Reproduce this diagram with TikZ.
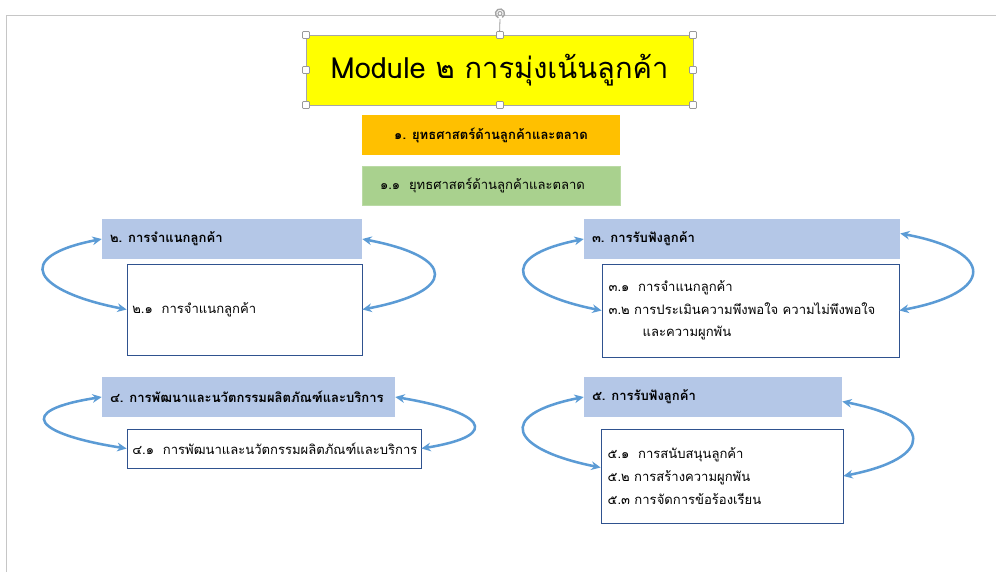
\documentclass[tikz,border=0pt]{standalone}
\usepackage{fontspec}
\setmainfont[Script=Thai]{Loma}
\usetikzlibrary{arrows.meta}
\definecolor{cyellow}{HTML}{FFFF00}
\definecolor{corange}{HTML}{FFC000}
\definecolor{cgreen}{HTML}{A9D18E}
\definecolor{chead}{HTML}{B4C7E7}
\definecolor{cbord}{HTML}{2F528F}
\definecolor{carrow}{HTML}{5B9BD5}
\definecolor{cgrey}{HTML}{C6C6C6}
\newcommand{\lbox}[2]{\makebox[#1][l]{#2}}
\tikzset{
  headbox/.style={fill=chead, draw=none, minimum height=30pt, inner xsep=6pt, inner ysep=0pt, anchor=center, font=\fontsize{9.8}{12}\selectfont\bfseries},
  subbox/.style={fill=white, draw=cbord, line width=0.6pt, inner xsep=4pt, inner ysep=0pt, anchor=center, font=\fontsize{9.8}{17}\selectfont},
  conn/.style={draw=carrow, line width=1.9pt, {Stealth[length=7pt,width=6.5pt]}-{Stealth[length=7pt,width=6.5pt]}},
  handle/.style={draw=gray!80, fill=white, line width=0.5pt, rounded corners=0.6pt},
}
\begin{document}
\begin{tikzpicture}[x=0.75pt,y=-0.75pt]
\useasboundingbox (0,0) rectangle (996,572);
% slide frame
\draw[cgrey, line width=1pt] (6.5,572) -- (6.5,15.5) -- (996,15.5);
% title
\node[fill=cyellow, draw=gray!70, line width=0.6pt, minimum width=290.25pt, minimum height=52.5pt, inner sep=0pt, font=\fontsize{21.8}{24}\selectfont] (title) at (499.5,70) {Module ๒ การมุ่งเน้นลูกค้า};
% rotation handle
\draw[gray!80, line width=0.6pt] (title.north) -- (500,19);
\draw[gray!70, line width=1.1pt] (500,13.5) ++(60:4.5) arc (60:-250:4.5);
\draw[gray!70, line width=0.8pt] (500,13.5) circle (2);
\foreach \p in {(306,35),(500,35),(693,35),(306,70),(693,70),(306,105),(500,105),(693,105)}
  \draw[handle] \p ++(-3.5,-3.5) rectangle ++(7,7);
% strategy boxes
\node[fill=corange, minimum width=193.5pt, minimum height=30pt, inner sep=0pt, font=\fontsize{9.8}{12}\selectfont\bfseries] (s1) at (491,135) {๑. ยุทธศาสตร์ด้านลูกค้าและตลาด};
\node[fill=cgreen, draw=cgreen!80!white, line width=0.5pt, minimum height=29.25pt, inner sep=0pt, font=\fontsize{9.8}{12}\selectfont] (s11) at (491,185.5) {\lbox{193.5pt}{\hspace*{13.5pt}๑.๑\ \ ยุทธศาสตร์ด้านลูกค้าและตลาด}};
% group 2
\node[headbox] (h2) at (232,239) {\lbox{183pt}{๒. การจำแนกลูกค้า}};
\node[subbox, minimum height=68.25pt] (b2) at (244.5,309.5) {\lbox{168.25pt}{๒.๑\ \ การจำแนกลูกค้า}};
% group 3
\node[headbox] (h3) at (742,239) {\lbox{225pt}{๓. การรับฟังลูกค้า}};
\node[subbox, text width=212.75pt, inner xsep=5pt, minimum height=69.75pt, align=left] (b3) at (750.5,310.5) {๓.๑\ \ การจำแนกลูกค้า\\๓.๒ การประเมินความพึงพอใจ ความไม่พึงพอใจ\\\hspace*{25.5pt}และความผูกพัน};
% group 4
\node[headbox] (h4) at (248.5,397) {\lbox{207.75pt}{๔. การพัฒนาและนวัตกรรมผลิตภัณฑ์และบริการ}};
\node[subbox, minimum height=29.25pt] (b4) at (274,448.5) {\lbox{212.5pt}{๔.๑\ \ การพัฒนาและนวัตกรรมผลิตภัณฑ์และบริการ}};
% group 5
\node[headbox] (h5) at (713,397) {\lbox{181.5pt}{๕. การรับฟังลูกค้า}};
\node[subbox, text width=171.5pt, inner xsep=5pt, minimum height=70.5pt, align=left] (b5) at (722,476) {๕.๑\ \ การสนับสนุนลูกค้า\\๕.๒ การสร้างความผูกพัน\\๕.๓ การจัดการข้อร้องเรียน};
% connectors
\draw[conn] (h2.west) .. controls +(-92,18) and +(-92,-18) .. (b2.west);
\draw[conn] (h2.east) .. controls +(95,18) and +(95,-18) .. (b2.east);
\draw[conn] (h3.west) .. controls +(-90,18) and +(-90,-18) .. (b3.west);
\draw[conn] (h3.2) .. controls +(96,18) and +(96,-18) .. (b3.east);
\draw[conn] (h4.west) .. controls +(-90,14) and +(-90,-14) .. (b4.west);
\draw[conn] (h4.east) .. controls +(85,14) and +(85,-14) .. (b4.east);
\draw[conn] (h5.west) .. controls +(-90,18) and +(-90,-18) .. (b5.176);
\draw[conn] (h5.-2) .. controls +(92,18) and +(92,-18) .. (b5.east);
\end{tikzpicture}
\end{document}
